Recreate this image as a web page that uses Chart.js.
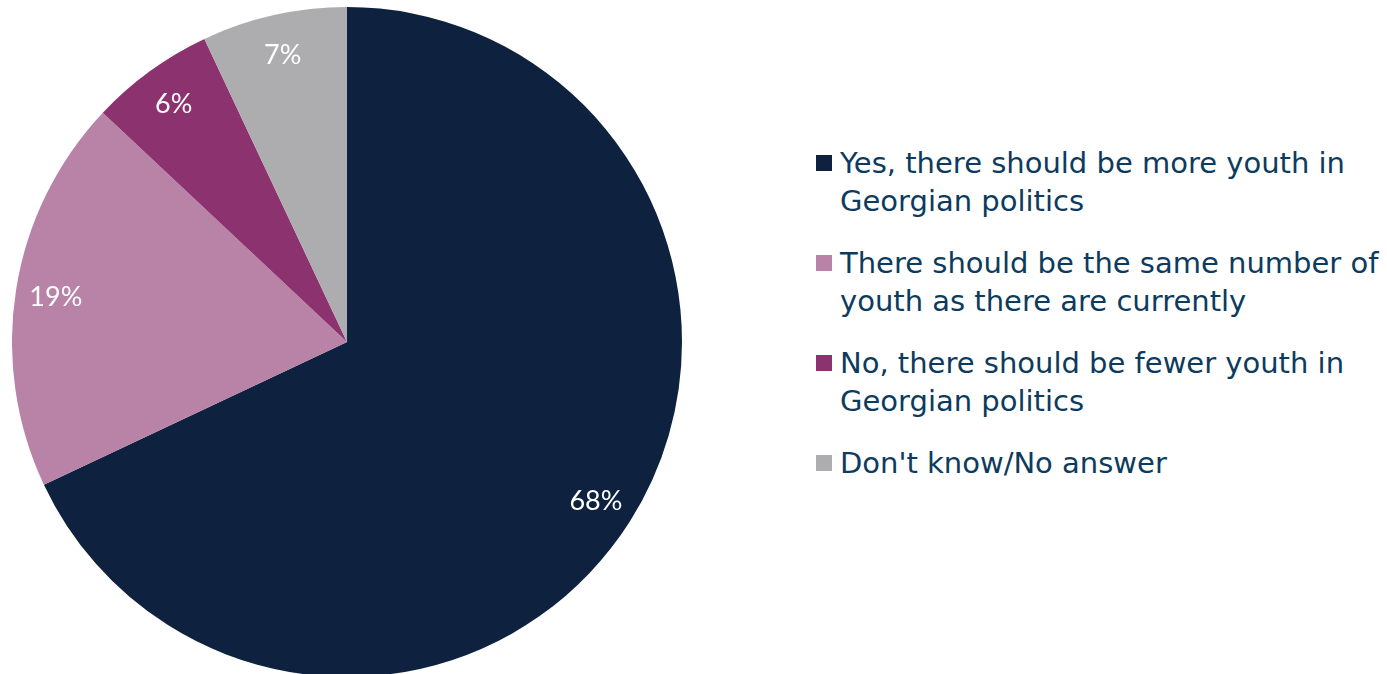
<!DOCTYPE html>
<html>
<head>
<meta charset="utf-8">
<script src="https://cdn.jsdelivr.net/npm/chart.js@4"></script>
<style>
  html, body { margin: 0; padding: 0; background: #fff; overflow: hidden; }
  body { width: 1387px; height: 674px; position: relative; }
  #pieWrap { position: absolute; left: 12px; top: 7px; width: 670px; height: 670px; }
  #legend { position: absolute; left: 816px; top: 144px; font-family: "DejaVu Sans", sans-serif; font-size: 29px; color: #0d3b5e; }
  .item { display: flex; align-items: flex-start; margin-bottom: 24px; }
  .box { width: 16px; height: 16px; margin-top: 11px; margin-right: 8px; flex: none; }
  .txt { line-height: 38px; white-space: nowrap; }
</style>
</head>
<body>
<div id="pieWrap"><canvas id="pieChart"></canvas></div>
<div id="legend"></div>
<script>
// Datos del gráfico
const etiquetas = [
    ['Yes, there should be more youth in', 'Georgian politics'],
    ['There should be the same number of', 'youth as there are currently'],
    ['No, there should be fewer youth in', 'Georgian politics'],
    ["Don't know/No answer"]
];
const valores = [68, 19, 6, 7];
const colores = ['#0e2240', '#b983a7', '#8c326e', '#adadaf'];

// Etiquetas de porcentaje dentro de cada sector
const etiquetasPct = {
    id: 'etiquetasPct',
    afterDatasetsDraw(chart) {
        const ctx = chart.ctx;
        const meta = chart.getDatasetMeta(0);
        ctx.save();
        ctx.fillStyle = '#ffffff';
        ctx.font = '27px Lato, "Open Sans", sans-serif';
        ctx.textAlign = 'center';
        ctx.textBaseline = 'middle';
        meta.data.forEach(function (arc, i) {
            const a = (arc.startAngle + arc.endAngle) / 2;
            const r = arc.outerRadius * 0.88;
            ctx.fillText(valores[i] + '%', arc.x + Math.cos(a) * r, arc.y + Math.sin(a) * r + 1);
        });
        ctx.restore();
    }
};

document.addEventListener("DOMContentLoaded", function () {
    const pieCtx = document.getElementById('pieChart').getContext('2d');
    const pieChart = new Chart(pieCtx, {
        type: 'pie',
        data: {
            labels: etiquetas.map(function (l) { return l.join(' '); }),
            datasets: [{
                data: valores,
                backgroundColor: colores,
                borderWidth: 0
            }]
        },
        options: {
            responsive: true,
            maintainAspectRatio: false,
            animation: false,
            layout: { padding: 0 },
            plugins: {
                legend: { display: false },
                tooltip: { enabled: false }
            }
        },
        plugins: [etiquetasPct]
    });

    // Leyenda en HTML (texto en varias líneas)
    const legend = document.getElementById('legend');
    etiquetas.forEach(function (lineas, i) {
        const item = document.createElement('div');
        item.className = 'item';
        const box = document.createElement('div');
        box.className = 'box';
        box.style.background = colores[i];
        const txt = document.createElement('div');
        txt.className = 'txt';
        txt.innerHTML = lineas.join('<br>');
        item.appendChild(box);
        item.appendChild(txt);
        legend.appendChild(item);
    });
});
</script>
</body>
</html>
